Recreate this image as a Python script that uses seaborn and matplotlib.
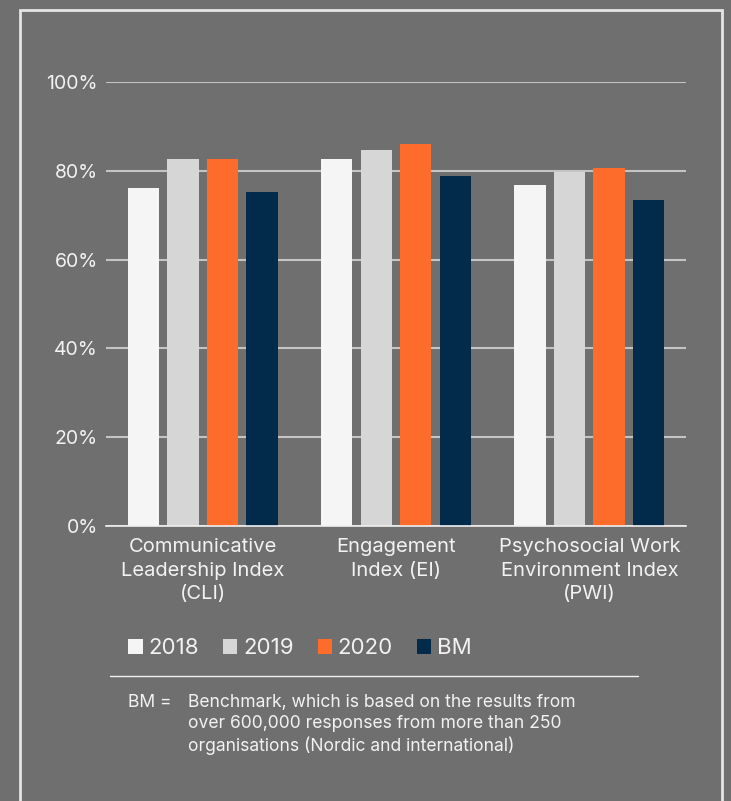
import matplotlib
matplotlib.use("Agg")
import matplotlib.pyplot as plt
import seaborn as sns
import pandas as pd
from matplotlib.patches import Rectangle
from matplotlib.lines import Line2D

categories = ["Communicative\nLeadership Index\n(CLI)", "Engagement\nIndex (EI)", "Psychosocial Work\nEnvironment Index\n(PWI)"]
series = ["2018", "2019", "2020", "BM"]
v2018 = [76.1, 82.7, 76.8]
v2019 = [82.7, 84.7, 79.8]
v2020 = [82.7, 86.0, 80.6]
vBM = [75.2, 78.8, 73.4]
yticks = [0, 20, 40, 60, 80, 100]
ytick_labels = ["0%", "20%", "40%", "60%", "80%", "100%"]
footnote_key = "BM ="
footnote_text = "Benchmark, which is based on the results from\nover 600,000 responses from more than 250\norganisations (Nordic and international)"

colors = ["#f5f5f5", "#d6d6d6", "#fe6c2b", "#022a4b"]
bg = "#6f6f6f"
fg = "#f2f2f2"

rows = []
for s, vals in zip(series, [v2018, v2019, v2020, vBM]):
    for c, v in zip(categories, vals):
        rows.append({"cat": c, "series": s, "value": v})
df = pd.DataFrame(rows)

sns.set_theme(style="white")
plt.rcParams["font.family"] = ["Inter", "DejaVu Sans"]

W, H = 731, 801
fig = plt.figure(figsize=(W / 100, H / 100), dpi=100, facecolor=bg)
ax = fig.add_axes([106 / W, (H - 526) / H, 580 / W, 444 / H])
ax.set_facecolor(bg)

sns.barplot(data=df, x="cat", y="value", hue="series", hue_order=series,
            palette=colors, width=0.82, gap=0.21, ax=ax, saturation=1,
            linewidth=0, legend=True)

ax.set_ylim(0, 100)
ax.set_yticks(yticks)
ax.set_yticklabels(ytick_labels)
ax.yaxis.grid(True, color="#c4c4c4", linewidth=1.5)
ax.set_axisbelow(True)
for sp in ["top", "right", "left"]:
    ax.spines[sp].set_visible(False)
ax.spines["bottom"].set_color("#f0f0f0")
ax.spines["bottom"].set_linewidth(1.2)
ax.tick_params(axis="y", length=0, pad=6, labelsize=14, labelcolor=fg)
ax.tick_params(axis="x", length=0, pad=9, labelsize=14.5, labelcolor=fg)
for t in ax.get_xticklabels():
    t.set_linespacing(1.38)
ax.set_xlabel("")
ax.set_ylabel("")

sns.move_legend(ax, "center", bbox_to_anchor=(300 / W, (H - 648) / H),
                bbox_transform=fig.transFigure, ncol=4, frameon=False,
                title=None, fontsize=16, handlelength=0.65, handleheight=0.65,
                handletextpad=0.25, columnspacing=1.08)
for t in ax.get_legend().get_texts():
    t.set_color(fg)

fig.add_artist(Rectangle((20 / W, -0.05), 702 / W, (H - 10) / H + 0.05,
                         transform=fig.transFigure, fill=False,
                         edgecolor="#e4e4e4", linewidth=2))
fig.add_artist(Line2D([110 / W, 638 / W], [(H - 676) / H] * 2,
                      transform=fig.transFigure, color=fg, linewidth=1))
fig.text(128 / W, (H - 694) / H, footnote_key, color=fg, fontsize=12.6, va="top",
         ha="left")
fig.text(188 / W, (H - 694) / H, footnote_text, color=fg, fontsize=12.6, va="top",
         ha="left", linespacing=1.3)

fig.savefig("out.png", dpi=100, facecolor=bg)
